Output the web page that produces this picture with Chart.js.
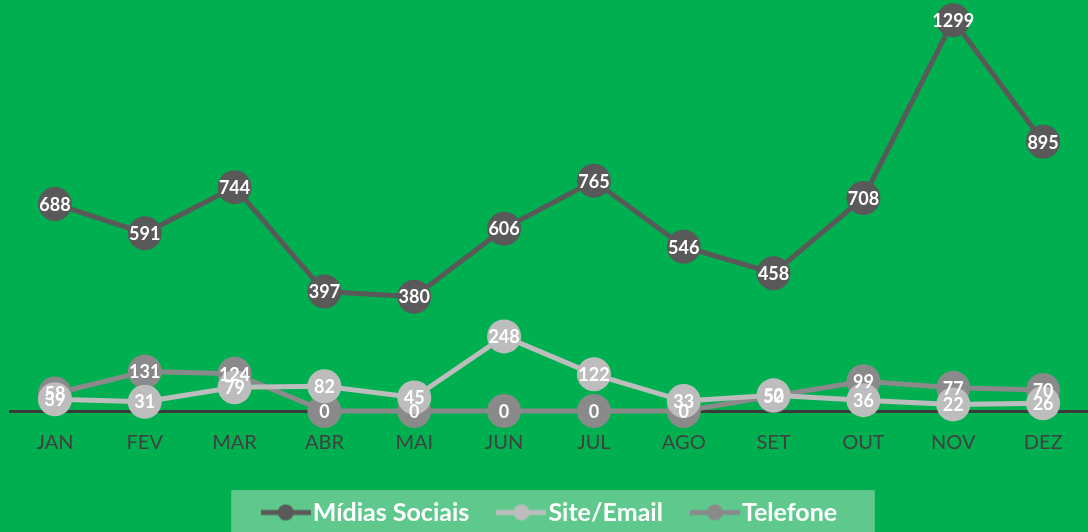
<!DOCTYPE html>
<html>
<head>
<meta charset="utf-8">
<script src="https://cdn.jsdelivr.net/npm/chart.js@4"></script>
<style>
  html, body { margin: 0; padding: 0; background: #00b050; }
  #wrap { width: 1088px; height: 532px; }
</style>
</head>
<body>
<div id="wrap"><canvas id="chart" width="1088" height="532"></canvas></div>
<script>
// data
const months = ["JAN", "FEV", "MAR", "ABR", "MAI", "JUN", "JUL", "AGO", "SET", "OUT", "NOV", "DEZ"];
const midiasSociais = [688, 591, 744, 397, 380, 606, 765, 546, 458, 708, 1299, 895];
const siteEmail = [39, 31, 79, 82, 45, 248, 122, 33, 52, 36, 22, 26];
const telefone = [58, 131, 124, 0, 0, 0, 0, 0, 50, 99, 77, 70];

const colors = { midias: "#595959", site: "#bdbdbd", tel: "#8a8a8a" };
const legendShift = { x: 13, y: 3 };

// small legend symbol: line with a dot in the middle
function legendSymbol(color) {
  const c = document.createElement("canvas");
  c.width = 50; c.height = 20;
  const ctx = c.getContext("2d");
  ctx.strokeStyle = color;
  ctx.lineWidth = 5;
  ctx.beginPath();
  ctx.moveTo(0, 10); ctx.lineTo(50, 10);
  ctx.stroke();
  ctx.fillStyle = color;
  ctx.beginPath();
  ctx.arc(25, 10, 8, 0, Math.PI * 2);
  ctx.fill();
  return c;
}

// green background and lighter legend box
const backgroundPlugin = {
  id: "background",
  afterLayout(chart) {
    // nudge the legend a bit to the right and down, like the original
    const lg = chart.legend;
    lg.left += legendShift.x; lg.right += legendShift.x;
    lg.top += legendShift.y; lg.bottom += legendShift.y;
  },
  beforeDraw(chart) {
    const ctx = chart.ctx;
    ctx.save();
    ctx.fillStyle = "#00b050";
    ctx.fillRect(0, 0, chart.width, chart.height);
    const boxes = chart.legend.legendHitBoxes;
    if (boxes && boxes.length) {
      const left = Math.min(...boxes.map(b => b.left)) - 53 + legendShift.x;
      const right = Math.max(...boxes.map(b => b.left + b.width)) + 9 + legendShift.x;
      ctx.fillStyle = "#5fc98d";
      ctx.fillRect(left, 490, right - left, chart.height - 490);
    }
    ctx.restore();
  }
};

// white value labels centered on the markers
const valueLabels = {
  id: "valueLabels",
  afterDatasetsDraw(chart) {
    const ctx = chart.ctx;
    ctx.save();
    ctx.font = "bold 18px Lato";
    ctx.fillStyle = "#ffffff";
    ctx.textAlign = "center";
    ctx.textBaseline = "middle";
    chart.data.datasets.forEach((ds, i) => {
      const meta = chart.getDatasetMeta(i);
      meta.data.forEach((pt, j) => {
        ctx.fillText(String(ds.data[j]), pt.x, pt.y + 1);
      });
    });
    ctx.restore();
  }
};

function series(label, data, color) {
  return {
    label,
    data,
    borderColor: color,
    backgroundColor: color,
    borderWidth: 5,
    pointRadius: 17,
    pointHoverRadius: 17,
    pointBorderWidth: 0,
    pointBackgroundColor: color,
    pointStyle: "circle",
    tension: 0,
    clip: false
  };
}

new Chart(document.getElementById("chart"), {
  type: "line",
  data: {
    labels: months,
    datasets: [
      series("Mídias Sociais", midiasSociais, colors.midias),
      series("Site/Email", siteEmail, colors.site),
      series("Telefone", telefone, colors.tel)
    ]
  },
  options: {
    responsive: false,
    animation: false,
    events: [],
    layout: { autoPadding: false, padding: { left: 10, right: 0, top: 0, bottom: 0 } },
    plugins: {
      legend: {
        position: "bottom",
        labels: {
          usePointStyle: true,
          pointStyleWidth: 29,
          color: "#ffffff",
          font: { family: "Lato", size: 25, weight: "bold" },
          padding: 22,
          boxHeight: 20,
          generateLabels(chart) {
            // trailing spaces widen the gap between legend items
            return chart.data.datasets.map((ds, i) => ({
              text: ds.label + "\u2002\u2009",
              fontColor: "#ffffff",
              pointStyle: legendSymbol(ds.borderColor),
              datasetIndex: i,
              lineWidth: 0,
              hidden: false
            }));
          }
        }
      },
      tooltip: { enabled: false }
    },
    scales: {
      x: {
        offset: true,
        grid: { display: false, drawTicks: false },
        border: { color: "#3a3a3a", width: 3 },
        ticks: {
          color: "#404040",
          padding: 20,
          font: { family: "Lato", size: 20 }
        }
      },
      y: {
        display: false,
        min: 0,
        max: 1366
      }
    }
  },
  plugins: [backgroundPlugin, valueLabels]
});
</script>
</body>
</html>
